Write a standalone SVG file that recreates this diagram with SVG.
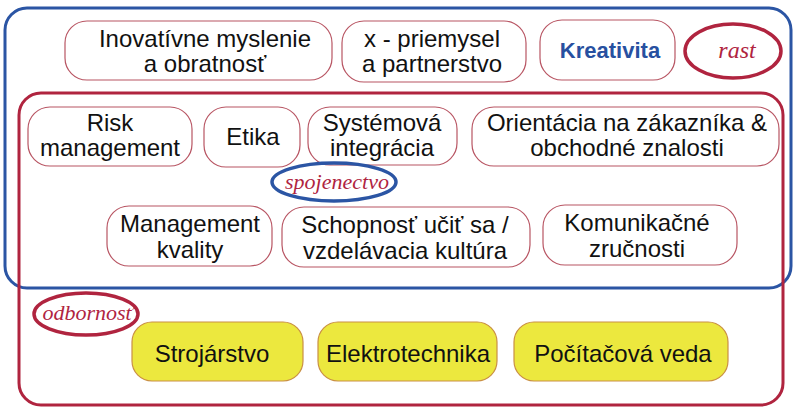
<svg xmlns="http://www.w3.org/2000/svg" width="800" height="415" viewBox="0 0 800 415">
<style>
.t{font-family:"Liberation Sans",Arial,sans-serif;font-size:24px;fill:#111;text-anchor:middle}
.n{fill:#fff;stroke:#b85563;stroke-width:1.2}
.y{fill:#ece83e;stroke:#c98f45;stroke-width:1.2}
.s{font-family:"Liberation Serif","Times New Roman",serif;font-style:italic;fill:#b0243f;text-anchor:middle}
</style>
<rect width="800" height="415" fill="#fff"/>
<g id="frame-blue"><rect x="5" y="8" width="786" height="280" rx="22" fill="none" stroke="#2b55a4" stroke-width="3"/></g>
<g id="frame-red"><rect x="19" y="93" width="764" height="312" rx="22" fill="none" stroke="#b0243f" stroke-width="3"/></g>

<g id="inovativne"><rect class="n" x="65" y="21" width="267" height="59" rx="22"/><text class="t" x="205" y="47">Inovatívne myslenie</text><text class="t" x="205" y="72">a obratnosť</text></g>
<g id="priemysel"><rect class="n" x="342" y="21" width="184" height="61" rx="22"/><text class="t" x="432" y="47">x - priemysel</text><text class="t" x="432" y="72">a partnerstvo</text></g>
<g id="kreativita"><rect class="n" x="540" y="20" width="135" height="60" rx="22"/><text x="610" y="58" style="font-family:'Liberation Sans',Arial,sans-serif;font-size:22px;font-weight:bold;fill:#2750a0;text-anchor:middle">Kreativita</text></g>
<g id="rast"><ellipse cx="733" cy="51" rx="48" ry="27" fill="none" stroke="#b0243f" stroke-width="3.5"/><text class="s" x="737" y="58" font-size="24">rast</text></g>

<g id="risk"><rect class="n" x="28" y="107" width="164" height="59" rx="22"/><text class="t" x="110" y="131">Risk</text><text class="t" x="110" y="156">management</text></g>
<g id="etika"><rect class="n" x="204" y="107" width="96" height="60" rx="22"/><text class="t" x="253" y="145">Etika</text></g>
<g id="systemova"><rect class="n" x="308" y="107" width="149" height="58" rx="22"/><text class="t" x="382" y="131">Systémová</text><text class="t" x="382" y="156">integrácia</text></g>
<g id="orientacia"><rect class="n" x="472" y="107" width="307" height="59" rx="22"/><text class="t" x="627" y="131">Orientácia na zákazníka &amp;</text><text class="t" x="627" y="156">obchodné znalosti</text></g>
<g id="spojenectvo"><ellipse cx="334" cy="182" rx="62" ry="19" fill="none" stroke="#2b55a4" stroke-width="3.5"/><text class="s" x="337" y="189" font-size="22">spojenectvo</text></g>

<g id="management-kvality"><rect class="n" x="107" y="206" width="165" height="60" rx="22"/><text class="t" x="190" y="232">Management</text><text class="t" x="190" y="258">kvality</text></g>
<g id="schopnost"><rect class="n" x="282" y="207" width="248" height="60" rx="22"/><text class="t" x="405" y="233">Schopnosť učiť sa /</text><text class="t" x="405" y="259">vzdelávacia kultúra</text></g>
<g id="komunikacne"><rect class="n" x="543" y="205" width="194" height="60" rx="22"/><text class="t" x="637" y="231">Komunikačné</text><text class="t" x="637" y="257">zručnosti</text></g>

<g id="odbornost"><ellipse cx="86" cy="314" rx="52" ry="21" fill="none" stroke="#b0243f" stroke-width="3.5"/><text class="s" x="88" y="320" font-size="22">odbornosť</text></g>
<g id="strojarstvo"><rect class="y" x="132" y="322" width="171" height="59" rx="20"/><text class="t" x="212" y="362">Strojárstvo</text></g>
<g id="elektrotechnika"><rect class="y" x="318" y="322" width="179" height="59" rx="20"/><text class="t" x="408" y="362">Elektrotechnika</text></g>
<g id="pocitacova-veda"><rect class="y" x="514" y="322" width="214" height="59" rx="20"/><text class="t" x="623" y="362">Počítačová veda</text></g>
<g id="connectors"/>
</svg>
